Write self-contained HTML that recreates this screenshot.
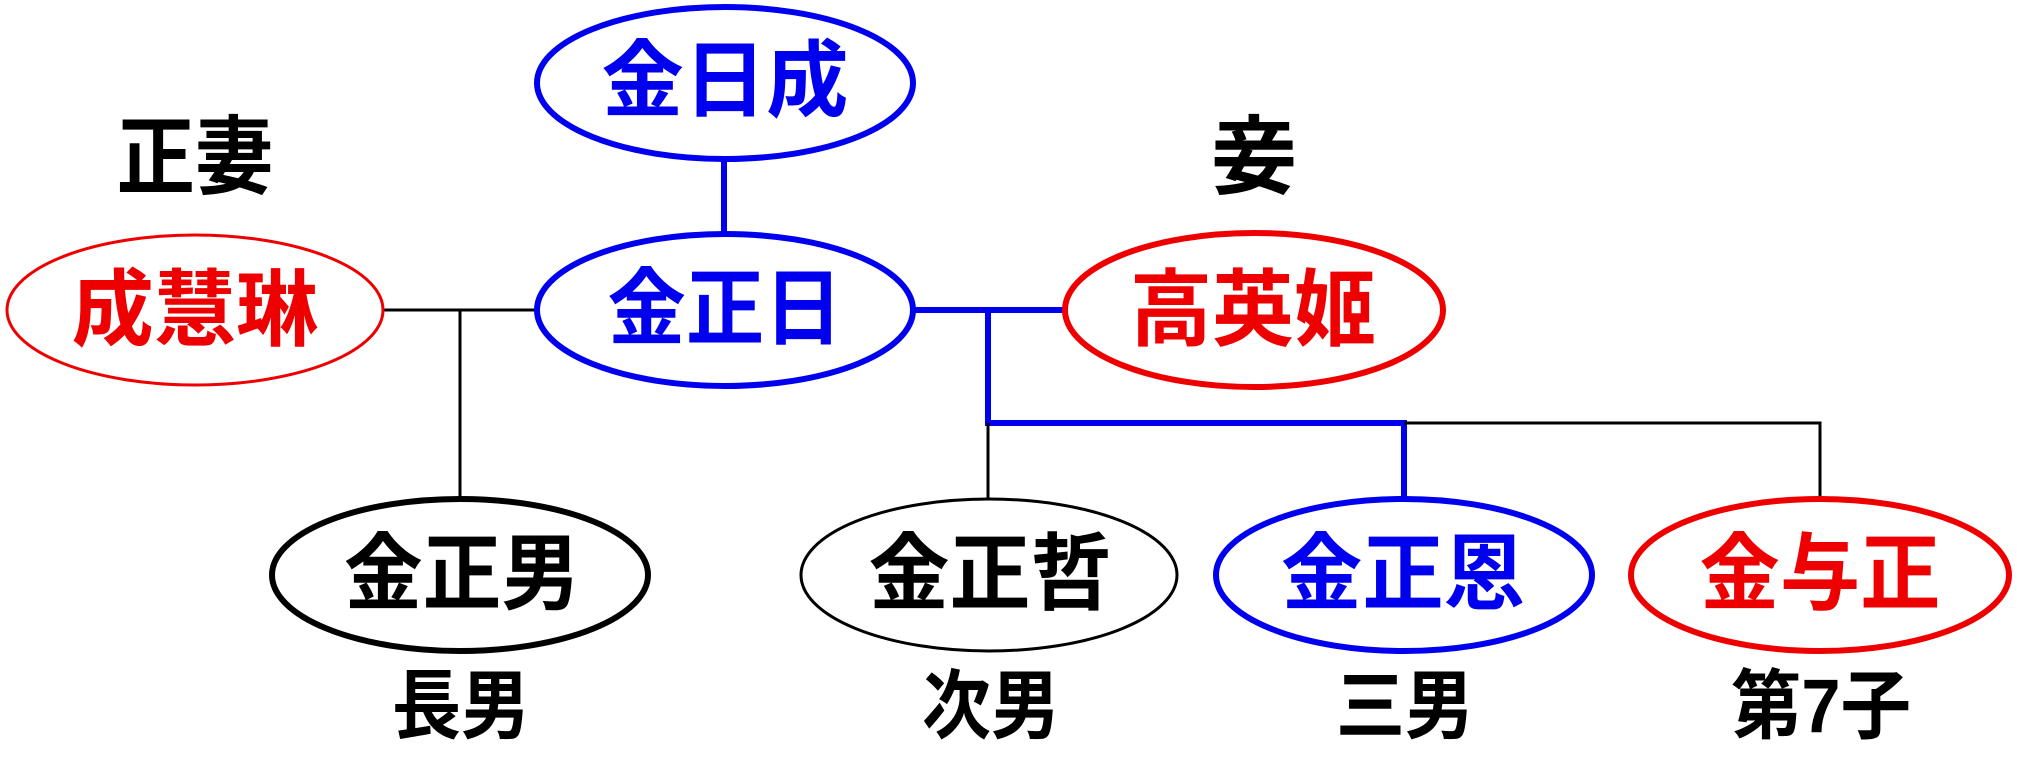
<!DOCTYPE html>
<html><head><meta charset="utf-8"><style>
html,body{margin:0;padding:0;background:#fff;}
svg{display:block}
text{font-family:"Liberation Sans","Noto Sans CJK JP",sans-serif;text-anchor:middle;dominant-baseline:central}
.n{font-size:84px;font-weight:bold}
.l{font-size:86px;font-weight:bold}
.b{font-size:76px;font-weight:bold}
</style></head><body>
<svg width="2017" height="771" viewBox="0 0 2017 771" xmlns="http://www.w3.org/2000/svg">
<!-- connectors -->
<line x1="724" y1="160" x2="724" y2="234" stroke="#0000ee" stroke-width="6"/>
<line x1="384" y1="310" x2="535" y2="310" stroke="#000" stroke-width="3"/>
<line x1="460" y1="310" x2="460" y2="498" stroke="#000" stroke-width="3"/>
<line x1="914" y1="310" x2="1064" y2="310" stroke="#0000ee" stroke-width="6"/>
<polyline points="988,310 988,423 1404,423 1404,498" fill="none" stroke="#0000ee" stroke-width="6"/>
<line x1="988" y1="423" x2="988" y2="498" stroke="#000" stroke-width="3"/>
<polyline points="1404,423 1820,423 1820,498" fill="none" stroke="#000" stroke-width="3"/>
<!-- nodes -->
<ellipse cx="725" cy="83" rx="188" ry="76" fill="#fff" stroke="#0000ee" stroke-width="6"/>
<ellipse cx="725" cy="310" rx="188" ry="76" fill="#fff" stroke="#0000ee" stroke-width="6"/>
<ellipse cx="195" cy="310" rx="188" ry="75" fill="#fff" stroke="#ee0000" stroke-width="3"/>
<ellipse cx="1254" cy="310" rx="189" ry="77" fill="#fff" stroke="#ee0000" stroke-width="6"/>
<ellipse cx="460" cy="575" rx="188" ry="76" fill="#fff" stroke="#000" stroke-width="6"/>
<ellipse cx="989" cy="575" rx="188" ry="76" fill="#fff" stroke="#000" stroke-width="3"/>
<ellipse cx="1404" cy="575" rx="188" ry="76" fill="#fff" stroke="#0000ee" stroke-width="6"/>
<ellipse cx="1820" cy="575" rx="189" ry="76" fill="#fff" stroke="#ee0000" stroke-width="6"/>
<!-- names -->
<text class="n" x="725" y="81" fill="#0000ee" textLength="247" lengthAdjust="spacingAndGlyphs">金日成</text>
<text class="n" x="725" y="309" fill="#0000ee" textLength="235" lengthAdjust="spacingAndGlyphs">金正日</text>
<text class="n" x="195" y="310" fill="#ee0000" textLength="247" lengthAdjust="spacingAndGlyphs">成慧琳</text>
<text class="n" x="1253" y="310" fill="#ee0000" textLength="246" lengthAdjust="spacingAndGlyphs">高英姬</text>
<text class="n" x="462" y="574" fill="#000" textLength="236" lengthAdjust="spacingAndGlyphs">金正男</text>
<text class="n" x="990" y="574" fill="#000" textLength="243" lengthAdjust="spacingAndGlyphs">金正哲</text>
<text class="n" x="1403" y="574" fill="#0000ee" textLength="244" lengthAdjust="spacingAndGlyphs">金正恩</text>
<text class="n" x="1820" y="574" fill="#ee0000" textLength="241" lengthAdjust="spacingAndGlyphs">金与正</text>
<!-- labels -->
<text class="l" x="195" y="158" textLength="157" lengthAdjust="spacingAndGlyphs">正妻</text>
<text class="l" x="1254" y="158">妾</text>
<text class="b" x="461" y="707" textLength="138" lengthAdjust="spacingAndGlyphs">長男</text>
<text class="b" x="991" y="707" textLength="138" lengthAdjust="spacingAndGlyphs">次男</text>
<text class="b" x="1405" y="707" textLength="138" lengthAdjust="spacingAndGlyphs">三男</text>
<text class="b" x="1821" y="707" textLength="180" lengthAdjust="spacingAndGlyphs">第7子</text>
</svg>
</body></html>
